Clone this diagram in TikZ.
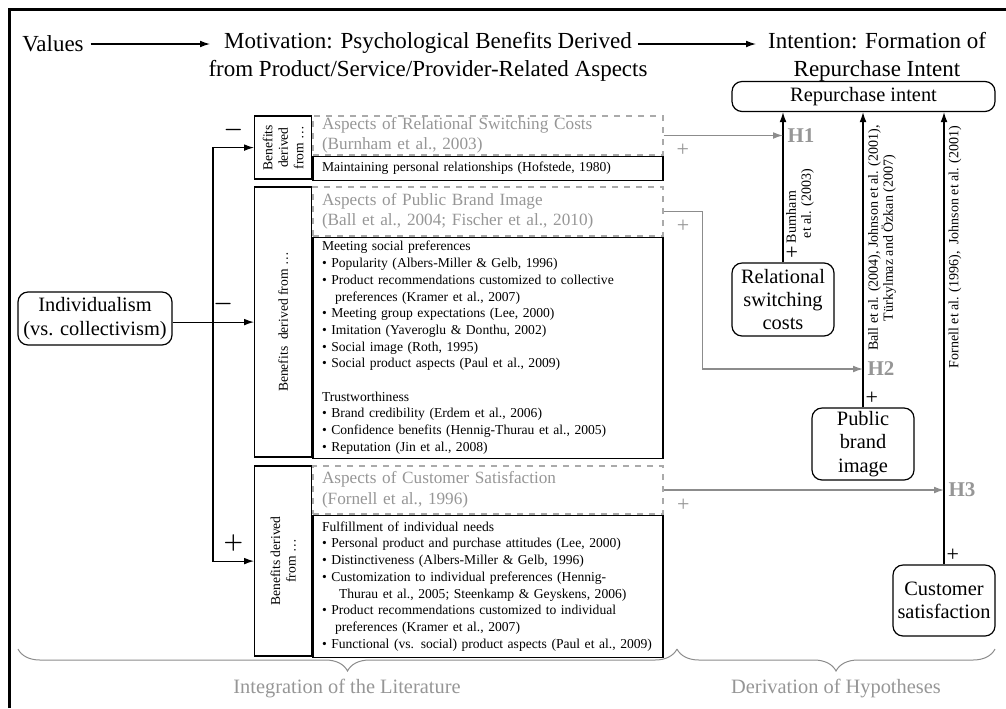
\documentclass[tikz,border=0pt]{standalone}
\usepackage{fontspec}
\setmainfont{Liberation Serif}
\usetikzlibrary{arrows.meta,decorations.pathreplacing}
\definecolor{lineGray}{RGB}{140,140,140}
\definecolor{textGray}{RGB}{150,150,150}
\definecolor{dashGray}{RGB}{170,170,170}

\begin{document}
\begin{tikzpicture}[x=0.5pt, y=-0.5pt, >={Latex[length=5pt,width=3.4pt]},
    hdr/.style={font=\fontsize{11.5}{14.2}\selectfont, align=center},
    roundbox/.style={draw, line width=0.6pt, rounded corners=5pt, align=center, inner sep=0pt, font=\fontsize{10.2}{11.7}\selectfont},
    labcell/.style={draw, line width=0.7pt, rotate=90, minimum height=28.5pt, align=center, inner sep=0pt, font=\fontsize{6.8}{7.8}\selectfont},
    aspbox/.style={draw=dashGray, dashed, line width=0.6pt, text=textGray, text width=166pt, inner xsep=4.5pt, inner ysep=0pt, align=left, font=\fontsize{8.6}{10.25}\selectfont},
    lstbox/.style={draw, line width=0.7pt, text width=166pt, inner xsep=4.5pt, inner ysep=0pt, align=left, font=\fontsize{6.8}{8.35}\selectfont},
    reflab/.style={rotate=90, inner sep=0pt, font=\fontsize{7}{7.4}\selectfont},
    hlab/.style={text=textGray, font=\fontsize{10.5}{12}\selectfont\bfseries, inner sep=2pt},
    gplus/.style={text=textGray, font=\fontsize{11}{12}\selectfont, yshift=-7.5pt},
    bplus/.style={font=\fontsize{11}{12}\selectfont, inner sep=1pt},
    sign/.style={font=\fontsize{11}{12}\selectfont\boldmath, above=1pt},
    link/.style={->, line width=0.6pt},
    glink/.style={->, lineGray, line width=0.6pt},
    gbrace/.style={decorate, decoration={brace, mirror, amplitude=11pt}, lineGray, line width=0.5pt},
    brlab/.style={text=textGray, font=\fontsize{10.2}{12}\selectfont}]
    \useasboundingbox (0,0) rectangle (1006,708);

    % frame
    \draw[line width=1.5pt] (9,708) -- (9,9) -- (1006,9);

    % header
    \node[hdr] (values) at (53,44) {Values};
    \node[hdr] (motiv) at (428,57) {Motivation: Psychological Benefits Derived\\from Product/Service/Provider-Related Aspects};
    \node[hdr] (intent) at (877,57) {Intention: Formation of\\Repurchase Intent};
    \coordinate (he1) at (210,44);
    \coordinate (hs) at (638,44);
    \coordinate (he) at (756,44);
    \draw[link] (values.east) -- (he1);
    \draw[link] (hs) -- (he);

    % benefits boxes
    \node[aspbox, minimum height=19.5pt] (asp1) at (488,135.5) {Aspects of Relational Switching Costs\\(Burnham et al., 2003)};
    \node[lstbox, minimum height=12pt, anchor=north] (lst1) at (asp1.south) {Maintaining personal relationships (Hofstede, 1980)};
    \node[labcell, minimum width=31.5pt, anchor=south east] (lab1) at (asp1.north west) {Benefits\\derived\\from \dots};

    \node[aspbox, minimum height=24.5pt] (asp2) at (488,211.5) {Aspects of Public Brand Image\\(Ball et al., 2004; Fischer et al., 2010)};
    \node[lstbox, minimum height=110.5pt, anchor=north] (lst2) at (asp2.south) {Meeting social preferences\\
        \textbullet\ Popularity (Albers-Miller \& Gelb, 1996)\\
        \textbullet\ Product recommendations customized to collective\\
        \hspace*{6.5pt}preferences (Kramer et al., 2007)\\
        \textbullet\ Meeting group expectations (Lee, 2000)\\
        \textbullet\ Imitation (Yaveroglu \& Donthu, 2002)\\
        \textbullet\ Social image (Roth, 1995)\\
        \textbullet\ Social product aspects (Paul et al., 2009)\\[8.35pt]
        Trustworthiness\\
        \textbullet\ Brand credibility (Erdem et al., 2006)\\
        \textbullet\ Confidence benefits (Hennig-Thurau et al., 2005)\\
        \textbullet\ Reputation (Jin et al., 2008)};
    \node[labcell, minimum width=135pt, anchor=south east] (lab2) at (asp2.north west) {Benefits\ \ derived from \dots};

    \node[aspbox, minimum height=24pt] (asp3) at (488,490) {Aspects of Customer Satisfaction\\(Fornell et al., 1996)};
    \node[lstbox, minimum height=71pt, anchor=north] (lst3) at (asp3.south) {Fulfillment of individual needs\\
        \textbullet\ Personal product and purchase attitudes (Lee, 2000)\\
        \textbullet\ Distinctiveness (Albers-Miller \& Gelb, 1996)\\
        \textbullet\ Customization to individual preferences (Hennig-\\
        \hspace*{8.5pt}Thurau et al., 2005; Steenkamp \& Geyskens, 2006)\\
        \textbullet\ Product recommendations customized to individual\\
        \hspace*{6.5pt}preferences (Kramer et al., 2007)\\
        \textbullet\ Functional (vs. social) product aspects (Paul et al., 2009)};
    \node[labcell, minimum width=95pt, anchor=south east] (lab3) at (asp3.north west) {Benefits derived\\from \dots};

    % individualism
    \node[roundbox, minimum width=77pt, minimum height=26.5pt] (indiv) at (95,318.5) {Individualism\\(vs. collectivism)};
    \coordinate (fork) at (213,322);
    \draw[link] (indiv.east |- lab2.north) -- node[sign, pos=0.62]{$-$} (lab2.north);
    \draw[link] (fork) |- node[sign, pos=0.75]{$-$} (lab1.north);
    \draw[link] (fork) |- node[sign, pos=0.75]{$+$} (lab3.north);

    % hypotheses
    \node[roundbox, minimum width=131.5pt, minimum height=15pt] (repint) at (863.5,96.5) {Repurchase intent};
    \node[roundbox, minimum width=51pt, minimum height=36.5pt] (rsc) at (783,299.5) {Relational\\switching\\costs};
    \node[roundbox, minimum width=51pt, minimum height=36pt] (pbi) at (863,444) {Public\\brand\\image};
    \node[roundbox, minimum width=51pt, minimum height=35.5pt] (csat) at (944,600.5) {Customer\\satisfaction};

    \draw[link] (rsc.north) -- node[bplus, pos=0, anchor=south west]{+} (rsc.north |- repint.south);
    \draw[link] (pbi.north) -- node[bplus, pos=0, anchor=south west]{+} (pbi.north |- repint.south);
    \draw[link] (csat.north) -- node[bplus, pos=0, anchor=south west]{+} (csat.north |- repint.south);

    \node[reflab, align=left] (ref1) at (800,206) {Burnham\\\hspace*{2.5pt}et al. (2003)};
    \node[reflab, align=center] (ref2) at (882,238) {Ball et al. (2004), Johnson et al. (2001),\\T\"urkylmaz and \"Ozkan (2007)};
    \node[reflab] (ref3) at (955,247) {Fornell et al. (1996),\ \ Johnson et al. (2001)};

    \coordinate (h2) at (863,369);
    \draw[glink] (asp1.east) -- node[gplus, pos=0.16]{+} (asp1.east -| rsc.north) node[hlab, right]{H1};
    \draw[glink] (asp2.east) -- node[gplus, midway]{+} ++(39,0) |- (h2) node[hlab, right]{H2};
    \draw[glink] (asp3.east) -- node[gplus, pos=0.07]{+} (asp3.east -| csat.north) node[hlab, right]{H3};

    % braces
    \coordinate (bl) at (18,649);
    \coordinate (bm) at (677,649);
    \coordinate (br) at (995,649);
    \draw[gbrace] (bl) -- (bm);
    \draw[gbrace] (bm) -- (br);
    \node[brlab] (integ) at (347,689) {Integration of the Literature};
    \node[brlab] (deriv) at (836,689) {Derivation of Hypotheses};
\end{tikzpicture}
\end{document}
